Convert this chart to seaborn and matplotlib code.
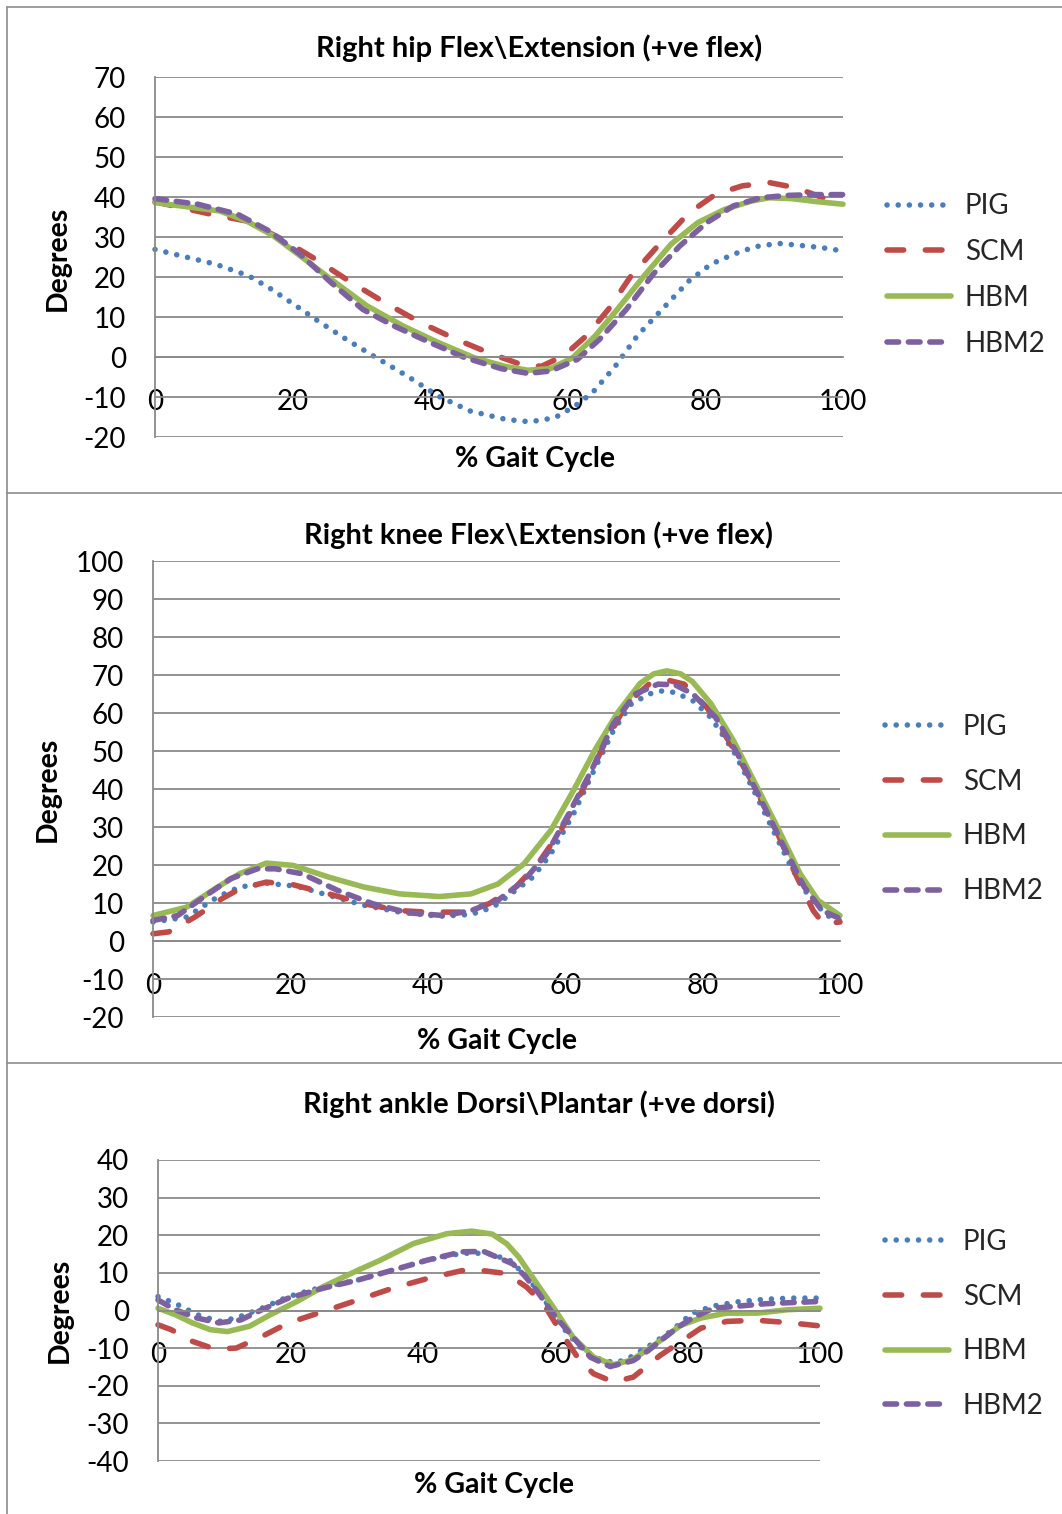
import numpy as np
import pandas as pd
import matplotlib
matplotlib.use("Agg")
import matplotlib.pyplot as plt
import seaborn as sns
from matplotlib.lines import Line2D

# ---------------- data ----------------
series_names = ["PIG", "SCM", "HBM", "HBM2"]
x_ticks = [0, 20, 40, 60, 80, 100]
titles = ["Right hip Flex\\Extension (+ve flex)",
          "Right knee Flex\\Extension (+ve flex)",
          "Right ankle Dorsi\\Plantar (+ve dorsi)"]
y_label = "Degrees"
x_label = "% Gait Cycle"

# Hip
hip_pig_x = [0, 4, 8.8, 13.6, 16.6, 20.5, 23.7, 27.9, 32, 36.7, 41.2, 45.8, 51, 54.5, 58.1, 61, 63.6,
             66.9, 70.1, 73.7, 77.6, 80.8, 84.1, 87.3, 90.6, 93.8, 97.1, 100]
hip_pig_y = [26.9, 25.2, 23.2, 20.3, 17.3, 12.8, 9.0, 4.3, 0.0, -4.8, -9.8, -13.5, -15.6, -16.2, -15.2,
             -12.3, -8.9, -2.3, 5.3, 11.9, 19.0, 23.2, 25.7, 27.6, 28.4, 27.9, 27.3, 26.5]
hip_scm_x = [0, 8.1, 13.3, 18.5, 23, 28.2, 33.4, 38.6, 43.8, 49, 53.6, 56.2, 59.4, 62.7, 65.9, 69.2,
             73.1, 77.6, 81.5, 85.4, 89.3, 93.2, 97.1, 100]
hip_scm_y = [38.8, 35.7, 34.0, 29.4, 24.8, 19.0, 13.6, 8.6, 4.4, 0.7, -2.1, -2.3, 0.3, 5.3, 11.9, 20.3,
             27.8, 36.0, 40.7, 42.8, 43.6, 42.3, 39.8, 38.6]
hip_hbm_x = [0, 9.4, 13.3, 17.2, 21.1, 25.6, 30.8, 36, 41.2, 46.4, 51, 54.2, 57.5, 60.7, 64, 67.2,
             71.1, 75, 78.9, 82.8, 86.7, 89.3, 92.5, 96.4, 100]
hip_hbm_y = [38.6, 36.5, 34.0, 30.3, 25.3, 19.4, 12.8, 7.8, 3.6, -0.2, -2.4, -3.3, -2.9, -0.2, 5.3,
             11.9, 20.3, 28.2, 33.6, 36.9, 39.0, 39.8, 39.6, 38.8, 38.2]
hip_hbm2_x = [0, 6.2, 12, 16.6, 21.1, 25.6, 30.2, 34.7, 40, 45.1, 50.3, 54.2, 57.5, 61.4, 64.6, 68.5,
              72.4, 76.3, 80.2, 84.1, 88, 91.9, 95.8, 100]
hip_hbm2_y = [39.6, 38.2, 35.7, 31.5, 25.7, 18.6, 11.9, 7.8, 3.6, -0.2, -2.9, -4.1, -3.5, -0.6, 4.4,
              11.9, 20.7, 27.8, 33.6, 37.8, 39.8, 40.4, 40.6, 40.6]

# Knee
knee_pig_x = [0, 4.9, 9.4, 12.6, 16.5, 21, 25.6, 30.7, 35.9, 41.7, 46.3, 49.5, 52.1, 55.3, 57.9, 61.2,
              64.4, 67, 69.6, 72.2, 74.1, 76, 78.6, 81.2, 84.5, 87.7, 90.3, 92.9, 95.5, 98.1, 100]
knee_pig_y = [5.0, 6.3, 11.6, 14.2, 15.2, 14.4, 12.0, 9.4, 7.6, 6.5, 7.0, 8.9, 12.4, 16.8, 22.9, 33.4,
              45.7, 55.3, 62.3, 65.0, 65.8, 65.4, 63.2, 58.8, 50.0, 38.7, 29.0, 19.4, 11.6, 6.7, 5.4]
knee_scm_x = [0, 2.3, 6.1, 10, 12.6, 16.5, 20.4, 25.6, 30.7, 35.9, 39.8, 45, 48.9, 52.8, 56, 59.2,
              62.5, 65.7, 68.9, 72.2, 74.8, 77.3, 80.6, 83.8, 87.1, 90.3, 93.5, 96.1, 97.6, 100]
knee_scm_y = [1.9, 2.4, 6.3, 11.1, 13.7, 15.5, 14.8, 12.4, 9.8, 8.0, 7.6, 7.6, 9.8, 14.2, 20.3, 28.6,
              39.6, 51.8, 62.3, 67.6, 68.7, 67.6, 61.5, 52.7, 42.2, 30.8, 17.7, 8.0, 4.5, 5.0]
knee_hbm_x = [0, 4.9, 9.4, 12.6, 16.5, 20.4, 25.6, 30.7, 35.9, 41.7, 46.3, 50.2, 54, 57.9, 61.2, 64.4,
              67.6, 70.9, 72.9, 74.8, 76.8, 78.5, 81.2, 84.5, 87.7, 90.9, 94.2, 96.8, 100]
knee_hbm_y = [6.7, 8.9, 14.2, 17.7, 20.5, 19.9, 16.8, 14.2, 12.4, 11.7, 12.4, 15.0, 20.3, 29.1, 39.6,
              50.5, 60.0, 67.8, 70.3, 71.1, 70.3, 68.3, 62.5, 52.7, 41.3, 29.9, 17.7, 10.7, 6.7]
knee_hbm2_x = [0, 3.6, 7.4, 11.3, 15.2, 17.8, 21.7, 26.9, 32, 37.2, 42.4, 46.3, 50.2, 54, 57.3, 60.5,
               63.8, 67, 70.2, 73.5, 76, 78.6, 81.9, 85.1, 88.3, 91.6, 94.8, 97.4, 100]
knee_hbm2_y = [5.4, 6.7, 11.6, 16.4, 19.0, 19.0, 17.7, 13.3, 9.8, 7.4, 6.7, 8.0, 10.7, 15.9, 22.9, 33.4,
               44.8, 57.1, 65.0, 67.6, 67.4, 65.0, 58.8, 49.2, 37.8, 25.6, 14.2, 8.0, 5.9]

# Ankle
ankle_pig_x = [0, 2.6, 5.9, 9.2, 11.8, 15.7, 19.7, 24.9, 30.2, 35.4, 40.7, 45.9, 49.8, 53.1, 55.7, 58.4,
               61, 63.6, 66.2, 68.9, 70.8, 74.1, 77.4, 80.7, 83.9, 87.9, 91.8, 95.7, 100]
ankle_pig_y = [3.7, 1.9, -1.1, -2.9, -2.0, 0.6, 3.7, 6.3, 8.1, 10.7, 13.4, 15.2, 15.2, 13.4, 9.0, 2.8,
               -4.2, -9.5, -12.6, -13.9, -13.0, -9.5, -5.6, -0.7, 1.2, 2.4, 3.0, 3.3, 3.3]
ankle_scm_x = [0, 2, 5.2, 8.5, 11.8, 15.7, 19.7, 24.9, 30.2, 35.4, 40.7, 45.9, 48.6, 52.7, 55.7, 58.3,
               60.7, 63.7, 65.8, 68.8, 71.8, 75.8, 78.7, 82, 85.9, 90.5, 95.1, 100]
ankle_scm_y = [-3.8, -5.1, -8.2, -10.2, -10.0, -6.9, -3.3, -0.3, 2.8, 5.9, 8.5, 10.6, 10.7, 9.8, 6.2,
               1.6, -5.3, -13.3, -16.8, -19.0, -17.7, -12.0, -8.6, -4.7, -2.9, -2.6, -3.2, -4.1]
ankle_hbm_x = [0, 2.6, 5.2, 7.9, 10.5, 13.8, 17, 21, 24.9, 30.2, 33.5, 38.6, 43.6, 47.4, 50.5, 52.7,
               54.5, 56.2, 58, 59.7, 62.7, 65.8, 68.8, 71.5, 73.8, 76.5, 78.9, 82, 85.9, 90.5, 95.1, 100]
ankle_hbm_y = [0.6, -1.1, -3.3, -5.1, -5.6, -4.2, -1.1, 2.4, 6.3, 10.7, 13.3, 17.8, 20.4, 21.1, 20.3,
               17.7, 14.2, 9.8, 5.2, 0.9, -7.1, -12.4, -14.4, -13.2, -10.6, -7.2, -4.0, -2.0, -0.7,
               -0.7, 0.2, 0.6]
ankle_hbm2_x = [0, 2.6, 5.9, 9.2, 12.5, 15.7, 19.7, 24.9, 30.2, 35.4, 40.7, 45.9, 49.2, 53.6, 55.4,
                57.2, 59.7, 62.7, 65.3, 68.3, 71.8, 74.1, 76.3, 78.5, 80.7, 83.9, 87.9, 91.8, 95.7, 100]
ankle_hbm2_y = [2.8, 0.2, -2.0, -3.3, -2.5, 0.2, 3.3, 5.9, 8.1, 10.7, 13.4, 15.6, 15.7, 12.4, 9.2,
                5.3, -0.9, -7.1, -12.4, -14.9, -13.3, -10.6, -7.5, -4.5, -2.0, 0.6, 1.2, 1.8, 2.1, 2.4]

hip_ticks = list(range(-20, 71, 10))
knee_ticks = list(range(-20, 101, 10))
ankle_ticks = list(range(-40, 41, 10))

# ---------------- styling ----------------
sns.set_theme(style="white")
plt.rcParams["font.family"] = ["Lato", "DejaVu Sans"]
plt.rcParams["axes.unicode_minus"] = False

colors = {"PIG": "#4A7EBB", "SCM": "#BE4B48", "HBM": "#98B954", "HBM2": "#7D60A0"}
lw = 4.0
styles = {
    "PIG": dict(linestyle=(0, (0.01, 2.0)), dash_capstyle="round", solid_capstyle="round"),
    "SCM": dict(linestyle=(0, (3.0, 3.9)), dash_capstyle="round"),
    "HBM": dict(linestyle="-", solid_capstyle="round"),
    "HBM2": dict(linestyle=(0, (2.1, 1.75)), dash_capstyle="round"),
}
grid_c = "#8A8A8A"
tick_fs = 20
lab_fs = 20.5
title_fs = 21

W, H = 1062, 1514
fig = plt.figure(figsize=(W / 100, H / 100), dpi=100)
fig.patch.set_facecolor("white")

def fx(px):
    return px / W

def fy(py):
    return 1 - py / H

panels = [
    dict(rect=(155, 77, 843, 437), ticks=hip_ticks, title=titles[0],
         data=[(hip_pig_x, hip_pig_y), (hip_scm_x, hip_scm_y), (hip_hbm_x, hip_hbm_y), (hip_hbm2_x, hip_hbm2_y)],
         title_pos=(539, 48), ylab=(58, 258), xlab=(535, 459), leg=(887, 275), legsp=0.71),
    dict(rect=(153, 561, 840, 1017), ticks=knee_ticks, title=titles[1],
         data=[(knee_pig_x, knee_pig_y), (knee_scm_x, knee_scm_y), (knee_hbm_x, knee_hbm_y), (knee_hbm2_x, knee_hbm2_y)],
         title_pos=(539, 535), ylab=(48, 789), xlab=(497, 1041), leg=(885, 809), legsp=1.04),
    dict(rect=(158, 1160, 820, 1461), ticks=ankle_ticks, title=titles[2],
         data=[(ankle_pig_x, ankle_pig_y), (ankle_scm_x, ankle_scm_y), (ankle_hbm_x, ankle_hbm_y), (ankle_hbm2_x, ankle_hbm2_y)],
         title_pos=(539, 1104), ylab=(60, 1310), xlab=(494, 1485), leg=(885, 1324), legsp=1.03),
]

for p in panels:
    l, t, r, b = p["rect"]
    ax = fig.add_axes([fx(l), fy(b), fx(r) - fx(l), fy(t) - fy(b)])
    ax.set_facecolor("white")
    handles = []
    for name, (xs, ys) in zip(series_names, p["data"]):
        df = pd.DataFrame({"x": xs, "y": ys})
        sns.lineplot(data=df, x="x", y="y", ax=ax, color=colors[name], linewidth=lw,
                     sort=False, estimator=None, clip_on=False, **styles[name])
        handles.append(Line2D([0], [0], color=colors[name], linewidth=lw, **styles[name]))
    ax.set_xlim(0, 100)
    ax.set_ylim(p["ticks"][0], p["ticks"][-1])
    ax.set_yticks(p["ticks"])
    ax.set_xticks(x_ticks)
    ax.grid(axis="y", color=grid_c, linewidth=1.3)
    ax.grid(axis="x", visible=False)
    for s in ["top", "right"]:
        ax.spines[s].set_visible(False)
    ax.spines["left"].set_color(grid_c)
    ax.spines["left"].set_linewidth(1.3)
    ax.spines["bottom"].set_position(("data", 0))
    ax.spines["bottom"].set_color(grid_c)
    ax.spines["bottom"].set_linewidth(1.3)
    ax.tick_params(axis="y", length=0, pad=21, labelsize=tick_fs, labelcolor="black")
    ax.tick_params(axis="x", length=0, pad=23, labelsize=tick_fs, labelcolor="black")
    ax.set_xlabel(x_label, fontsize=lab_fs, fontweight="bold", color="black")
    ax.set_ylabel(y_label, fontsize=lab_fs, fontweight="bold", color="black")
    ax.xaxis.set_label_coords(fx(p["xlab"][0]), fy(p["xlab"][1]), transform=fig.transFigure)
    ax.yaxis.set_label_coords(fx(p["ylab"][0]), fy(p["ylab"][1]), transform=fig.transFigure)
    ax.xaxis.label.set_va("center")
    ax.yaxis.label.set_va("center")
    fig.text(fx(p["title_pos"][0]), fy(p["title_pos"][1]), p["title"], ha="center", va="center",
             fontsize=title_fs, fontweight="bold", color="black")
    ax.legend(handles, series_names, loc="center left",
              bbox_to_anchor=(fx(p["leg"][0]), fy(p["leg"][1])), bbox_transform=fig.transFigure,
              frameon=False, fontsize=tick_fs, handlelength=2.3, handletextpad=0.5,
              labelspacing=p["legsp"], borderpad=0, borderaxespad=0)

# chart borders
bc = "#8C8C8C"
for y in [7, 493, 1063]:
    fig.add_artist(Line2D([fx(7), 1], [fy(y), fy(y)], transform=fig.transFigure, color=bc, lw=1.2))
fig.add_artist(Line2D([fx(7), fx(7)], [0, fy(7)], transform=fig.transFigure, color=bc, lw=1.2))

fig.savefig("out.png", dpi=100, facecolor="white")
